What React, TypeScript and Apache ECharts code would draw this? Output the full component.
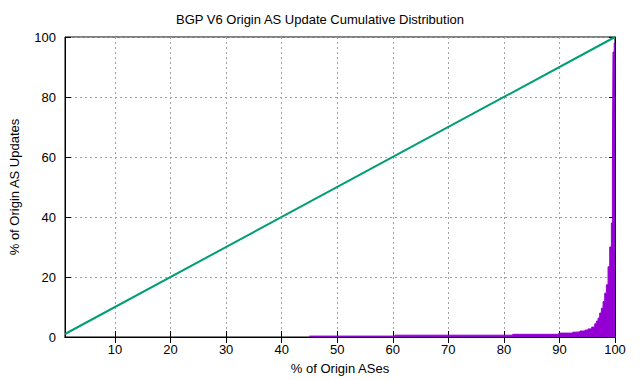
import React, { useEffect, useRef } from "react";
import * as echarts from "echarts";

const titleText = "BGP V6 Origin AS Update Cumulative Distribution";
const xTicks = [10, 20, 30, 40, 50, 60, 70, 80, 90, 100];
const yTicks = [0, 20, 40, 60, 80, 100];
const diagX = [1, 100];
const diagY = [1, 100];
const cdfX = [45, 60.4, 81.6, 89.9, 92.4, 92.8, 93.7, 94.6, 95.15, 95.8, 96.35, 96.65, 96.95, 97.25, 97.55, 97.85, 98.15, 98.45, 98.75, 99.05, 99.35, 99.53, 99.64, 99.86, 100];
const cdfY = [0.3, 0.6, 0.9, 1.3, 1.6, 1.7, 2.0, 2.3, 2.7, 3.3, 4.4, 5.3, 6.3, 8, 9.6, 11.8, 14.6, 17.4, 23.4, 30, 38, 58, 95, 98, 98];

const FONT = "Liberation Sans";

export default function App() {
  const ref = useRef<HTMLDivElement>(null);
  useEffect(() => {
    document.body.style.margin = "0";
    const chart = echarts.init(ref.current!, undefined, { renderer: "svg" });
    const gridStyle = { show: true, lineStyle: { color: "#a0a0a0", type: [2, 3] as any, width: 1 } };
    chart.setOption({
      animation: false,
      backgroundColor: "#ffffff",
      title: {
        text: titleText,
        left: "center",
        top: 8,
        textStyle: { fontFamily: FONT, fontSize: 13, fontWeight: "normal", color: "#000" },
      },
      grid: { left: 63, right: 25, top: 37, bottom: 39, show: true, borderColor: "#000", borderWidth: 1, backgroundColor: "transparent" },
      xAxis: [
        {
          type: "value",
          min: 1,
          max: 100,
          name: "% of Origin ASes",
          nameLocation: "middle",
          nameGap: 25,
          nameTextStyle: { fontFamily: FONT, fontSize: 13, color: "#000" },
          axisLine: { show: true, lineStyle: { color: "#000", width: 1 } },
          axisTick: { show: true, inside: true, length: 6, customValues: xTicks, lineStyle: { color: "#000" } },
          axisLabel: { customValues: xTicks, fontFamily: FONT, fontSize: 13, color: "#000", margin: 6 },
          splitLine: gridStyle,
        },
        {
          type: "value",
          position: "top",
          min: 1,
          max: 100,
          axisLine: { show: true, lineStyle: { color: "#000", width: 1 } },
          axisTick: { show: true, inside: true, length: 6, customValues: xTicks, lineStyle: { color: "#000" } },
          axisLabel: { show: false },
          splitLine: { show: false },
        },
      ],
      yAxis: [
        {
          type: "value",
          min: 0,
          max: 100,
          interval: 20,
          name: "% of Origin AS Updates",
          nameLocation: "middle",
          nameGap: 44,
          nameTextStyle: { fontFamily: FONT, fontSize: 13, color: "#000" },
          axisLine: { show: true, lineStyle: { color: "#000", width: 1 } },
          axisTick: { show: true, inside: true, length: 6, lineStyle: { color: "#000" } },
          axisLabel: { fontFamily: FONT, fontSize: 13, color: "#000", margin: 9, formatter: (v: number) => (yTicks.includes(v) ? String(v) : "") },
          splitLine: gridStyle,
        },
        {
          type: "value",
          position: "right",
          min: 0,
          max: 100,
          interval: 20,
          axisLine: { show: true, lineStyle: { color: "#000", width: 1 } },
          axisTick: { show: true, inside: true, length: 6, lineStyle: { color: "#000" } },
          axisLabel: { show: false },
          splitLine: { show: false },
        },
      ],
      series: [
        {
          type: "line",
          step: "end",
          showSymbol: false,
          symbol: "none",
          data: cdfX.map((x, i) => [x, cdfY[i]]),
          lineStyle: { color: "#9400d3", width: 1 },
          itemStyle: { color: "#9400d3" },
          areaStyle: { color: "#9400d3", opacity: 1 },
          z: 2,
        },
        {
          type: "line",
          showSymbol: false,
          symbol: "none",
          data: diagX.map((x, i) => [x, diagY[i]]),
          lineStyle: { color: "#009e73", width: 2 },
          itemStyle: { color: "#009e73" },
          z: 3,
        },
      ],
    });
    return () => chart.dispose();
  }, []);
  return <div ref={ref} style={{ width: 640, height: 380 }} />;
}
